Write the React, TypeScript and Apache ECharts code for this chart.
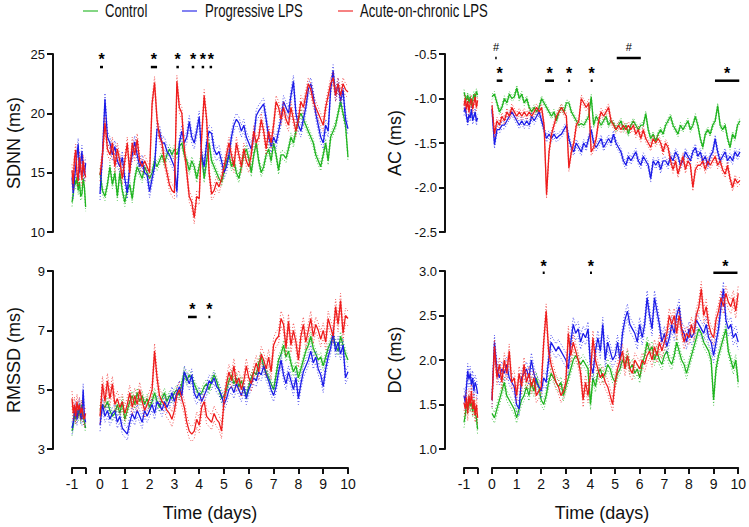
import React, { useEffect, useRef } from "react";
import * as echarts from "echarts";

// ---------- sampling grids ----------
const TIMES_PRE = [-1, -0.95, -0.9, -0.85, -0.8, -0.75, -0.7, -0.65, -0.6, -0.55, -0.5, -0.45];
const TIMES_POST = Array.from({ length: 101 }, (_, i) => i / 10);

const GROUPS = ["Control", "Progressive LPS", "Acute-on-chronic LPS"];
const COLORS = ["#1fb41f", "#1c1ce8", "#ee1c1c"];

const X_TICKS_POST = [0, 1, 2, 3, 4, 5, 6, 7, 8, 9, 10];

// ---------- SDNN ----------
const SDNN_PRE_CONTROL = [12.5, 13.2, 14.4, 14.0, 14.6, 13.5, 14.2, 13.0, 13.2, 14.5, 13.8, 12.1];
const SDNN_PRE_PROG = [14.6, 13.3, 14.5, 15.5, 16.5, 17.4, 15.0, 15.8, 16.8, 15.5, 14.8, 15.8];
const SDNN_PRE_ACUTE = [15.2, 14.0, 16.2, 16.9, 15.0, 14.3, 16.3, 15.5, 14.4, 16.0, 15.2, 14.6];
const SDNN_CONTROL = [
  15.0, 13.5, 13.0, 14.0, 15.5, 14.0, 15.0, 13.0, 15.0, 13.5,
  12.5, 13.5, 14.0, 12.8, 14.5, 15.5, 15.0, 14.5, 15.5, 15.0,
  14.5, 15.0, 16.0, 15.5, 16.0, 16.5, 15.8, 16.5, 17.0, 16.5,
  17.0, 16.5, 17.2, 17.5, 16.5, 16.0, 15.2, 16.0, 15.5, 14.5,
  15.5, 16.5, 14.5, 16.0, 17.5, 16.0, 15.5, 15.0, 14.5, 14.2,
  15.0, 16.0, 16.5, 15.5, 16.0, 15.0, 14.5, 15.5, 16.5, 17.0,
  16.2, 15.0, 16.5, 17.5, 16.0, 15.0, 15.5, 16.5, 17.0, 16.0,
  17.5, 16.5, 15.2, 16.5, 16.5, 16.2, 17.0, 18.0, 17.5, 18.5,
  19.5, 20.0, 19.5, 19.0, 18.5, 18.0, 17.5, 16.5, 16.0, 15.5,
  16.5, 17.5, 16.0, 18.0, 18.5, 19.0, 20.0, 21.0, 20.0, 19.0,
  16.3,
];
const SDNN_PROG = [
  13.2, 16.5, 21.2, 18.0, 17.5, 16.5, 17.2, 16.0, 15.5, 16.3,
  14.5, 13.3, 15.5, 16.5, 17.6, 16.5, 15.5, 16.0, 15.0, 14.8,
  13.4, 14.5, 15.5, 18.7, 18.5, 17.5, 17.5, 16.8, 16.5, 16.0,
  15.5, 13.4, 17.5, 18.5, 17.5, 18.0, 19.3, 18.0, 17.5, 18.5,
  19.7, 16.5, 15.5, 17.5, 18.5, 18.3, 17.0, 16.5, 16.8, 16.0,
  15.0, 15.5, 16.5, 18.0, 19.0, 19.5, 19.2, 18.5, 19.0, 18.0,
  17.5, 17.0, 18.0, 19.8, 20.2, 20.5, 20.8, 19.5, 18.0, 17.2,
  18.0, 17.5, 18.5, 19.5, 21.0, 20.5, 20.0, 21.5, 22.7, 20.0,
  19.0, 18.5, 19.5, 20.5, 22.0, 22.5, 21.5, 20.0, 19.0, 18.0,
  17.5, 19.0, 18.5, 22.0, 23.6, 21.5, 22.5, 21.0, 22.0, 19.5,
  18.7,
];
const SDNN_ACUTE = [
  14.8, 16.5, 19.2, 17.0, 16.5, 17.5, 15.5, 17.0, 16.0, 14.5,
  16.0, 17.5, 15.0, 17.5, 16.5, 17.8, 16.0, 15.5, 16.0, 15.5,
  15.0, 20.8, 22.6, 19.5, 18.0, 17.5, 16.0, 15.0, 14.0, 13.5,
  13.3, 22.7, 20.5, 20.0, 17.0, 15.0, 13.0, 12.5, 11.2, 13.0,
  12.8, 18.0, 21.5, 19.5, 15.0, 13.2, 13.5, 14.2, 13.8, 14.5,
  15.5, 16.5, 17.5, 16.5, 15.5, 17.5, 16.5, 15.5, 17.0, 16.0,
  15.5, 16.5, 18.5, 17.5, 18.0, 19.5, 18.5, 17.0, 18.5, 17.5,
  19.0, 21.0, 20.5, 19.5, 20.5, 19.5, 19.0, 20.5, 19.5, 18.5,
  19.5, 21.0, 20.5, 21.5, 22.5, 22.0, 21.0, 20.5, 20.0, 19.5,
  19.0, 20.5, 21.5, 22.5, 23.0, 21.5, 22.5, 21.5, 22.5, 22.0,
  21.8,
];
const SDNN_SEM = [0.35, 0.5, 0.5];
// [start day, end day, bar value, mark value, mark]
const SDNN_SIG: [number, number, number, number, string][] = [
  [0.0, 0.12, 23.9, 24.9, "*"],
  [2.05, 2.3, 23.9, 24.9, "*"],
  [3.08, 3.18, 23.9, 24.9, "*"],
  [3.7, 3.8, 23.9, 24.9, "*"],
  [4.1, 4.2, 23.9, 24.9, "*"],
  [4.42, 4.52, 23.9, 24.9, "*"],
];

// ---------- AC ----------
const AC_PRE_CONTROL = [-0.93, -0.98, -1.02, -0.96, -1.05, -0.98, -1.08, -1.02, -0.95, -1.0, -0.92, -0.96];
const AC_PRE_PROG = [-1.15, -1.1, -1.2, -1.27, -1.18, -1.22, -1.12, -1.25, -1.2, -1.15, -1.26, -1.22];
const AC_PRE_ACUTE = [-1.08, -1.0, -1.12, -1.03, -1.15, -1.05, -1.0, -1.12, -1.05, -0.98, -1.1, -1.02];
const AC_CONTROL = [
  -0.98, -0.95, -1.05, -1.15, -1.1, -1.0, -1.05, -0.95, -1.0, -0.98,
  -0.88, -1.0, -0.95, -1.05, -1.0, -1.1, -1.15, -1.1, -1.15, -1.1,
  -1.0, -1.05, -1.1, -1.15, -1.2, -1.15, -1.25, -1.15, -1.1, -1.15,
  -1.05, -1.05, -1.15, -1.2, -1.25, -1.3, -1.28, -1.3, -1.25, -1.2,
  -0.98, -1.3, -1.2, -1.25, -1.3, -1.25, -1.2, -1.3, -1.25, -1.28,
  -1.35, -1.3, -1.25, -1.35, -1.3, -1.4, -1.3, -1.25, -1.3, -1.35,
  -1.3, -1.3, -1.17, -1.35, -1.45, -1.4, -1.48, -1.4, -1.35, -1.4,
  -1.3, -1.25, -1.2, -1.3, -1.35, -1.4, -1.3, -1.35, -1.3, -1.25,
  -1.35, -1.3, -1.2, -1.3, -1.45, -1.55, -1.4, -1.35, -1.4, -1.3,
  -1.25, -1.08, -1.3, -1.35, -1.3, -1.45, -1.55, -1.4, -1.45, -1.3,
  -1.25,
];
const AC_PROG = [
  -1.12, -1.52, -1.35, -1.35, -1.3, -1.3, -1.25, -1.2, -1.15, -1.2,
  -1.25, -1.3, -1.25, -1.3, -1.25, -1.3, -1.2, -1.25, -1.2, -1.15,
  -1.25, -1.35, -1.45, -1.4, -1.45, -1.4, -1.45, -1.42, -1.4, -1.35,
  -1.3, -1.45, -1.55, -1.6, -1.5, -1.55, -1.6, -1.5, -1.55, -1.45,
  -1.35, -1.5, -1.55, -1.5, -1.45, -1.55, -1.5, -1.45, -1.5, -1.4,
  -1.5, -1.55, -1.6, -1.7, -1.75, -1.65, -1.7, -1.65, -1.6, -1.7,
  -1.75, -1.65, -1.7, -1.75, -1.9, -1.7, -1.75, -1.7, -1.8, -1.7,
  -1.7, -1.75, -1.65, -1.7, -1.6, -1.65, -1.75, -1.7, -1.6, -1.65,
  -1.7, -1.6, -1.55, -1.65, -1.6, -1.7, -1.65, -1.75, -1.65, -1.6,
  -1.45, -1.6, -1.7, -1.65, -1.6, -1.7, -1.65, -1.7, -1.6, -1.65,
  -1.6,
];
const AC_ACUTE = [
  -1.08, -1.4, -1.25, -1.3, -1.2, -1.25, -1.15, -1.2, -1.1, -1.15,
  -1.2, -1.15, -1.2, -1.15, -1.2, -1.15, -1.2, -1.15, -1.1, -1.15,
  -1.1, -1.3, -2.08, -1.6, -1.4, -1.3, -1.2, -1.15, -1.1, -1.15,
  -1.2, -1.78, -1.6, -1.5, -1.3, -1.25, -1.0, -1.05, -1.1, -1.05,
  -1.6, -1.55, -1.45, -1.25, -1.15, -1.2, -1.15, -1.1, -1.25, -1.3,
  -1.35, -1.3, -1.35, -1.3, -1.35, -1.3, -1.35, -1.3, -1.4, -1.35,
  -1.45, -1.35, -1.45, -1.5, -1.55, -1.45, -1.5, -1.45, -1.5, -1.6,
  -1.5, -1.55, -1.7, -1.8, -1.7, -1.85, -1.75, -1.65, -1.8, -1.7,
  -1.75, -2.0, -1.8, -1.75, -1.75, -1.7, -1.8, -1.7, -1.75, -1.7,
  -1.65, -1.75, -1.7, -1.8, -1.85, -1.75, -1.9, -2.0, -1.9, -1.95,
  -1.92,
];
const AC_SEM = [0.03, 0.04, 0.04];
const AC_SIG: [number, number, number, number, string][] = [
  [0.13, 0.19, -0.545, -0.42, "#"],
  [0.19, 0.42, -0.8, -0.67, "*"],
  [2.14, 2.5, -0.8, -0.67, "*"],
  [3.07, 3.15, -0.8, -0.67, "*"],
  [3.98, 4.06, -0.8, -0.67, "*"],
  [5.03, 6.0, -0.545, -0.42, "#"],
  [8.99, 9.97, -0.8, -0.67, "*"],
];

// ---------- RMSSD ----------
const RMSSD_PRE_CONTROL = [3.6, 3.8, 4.2, 4.0, 4.3, 4.1, 4.4, 4.0, 4.5, 4.1, 3.9, 3.7];
const RMSSD_PRE_PROG = [3.7, 3.9, 4.2, 4.4, 4.0, 4.3, 4.5, 4.1, 4.0, 5.0, 4.1, 3.9];
const RMSSD_PRE_ACUTE = [4.7, 4.2, 4.5, 4.1, 4.6, 4.3, 4.5, 4.2, 4.4, 4.1, 4.0, 4.2];
const RMSSD_CONTROL = [
  4.3, 4.5, 4.4, 4.6, 4.3, 4.1, 4.2, 4.5, 4.2, 4.6,
  4.0, 4.3, 4.6, 4.8, 4.5, 4.9, 4.6, 4.8, 4.5, 4.7,
  4.4, 4.6, 4.9, 4.6, 4.4, 4.7, 4.9, 4.6, 4.8, 4.7,
  4.9, 5.0, 4.8, 5.2, 5.6, 5.3, 5.5, 5.4, 5.2, 5.0,
  4.8, 4.9, 5.1, 5.2, 5.0, 5.3, 5.5, 5.3, 5.0, 4.7,
  4.8, 5.0, 5.3, 5.5, 5.2, 5.4, 5.1, 5.3, 5.0, 4.8,
  5.1, 5.4, 5.6, 5.5, 5.9, 6.1, 5.8, 5.6, 5.4, 5.2,
  5.0, 5.5, 6.0, 6.2, 6.5, 6.1, 6.3, 5.9, 5.6, 5.8,
  5.4, 5.7, 6.0, 6.3, 6.5, 6.8, 6.4, 6.2, 6.0, 6.1,
  5.8, 6.1, 6.4, 6.6, 6.8, 6.5, 6.3, 6.8, 6.5, 6.2,
  6.0,
];
const RMSSD_PROG = [
  3.8, 4.5, 4.1, 4.3, 4.0, 4.2, 4.3, 3.9, 4.1, 3.7,
  3.6, 3.5, 3.9, 4.2, 4.0, 4.3, 4.1, 3.9, 4.3, 4.1,
  4.3, 4.5, 4.2, 4.6, 4.5, 4.3, 4.6, 4.4, 4.6, 4.9,
  4.6, 4.9, 5.1, 4.8, 5.6, 5.4, 5.2, 5.5, 4.9, 4.7,
  4.9, 4.6, 4.8, 5.0, 5.3, 5.2, 5.4, 5.1, 5.0, 4.8,
  4.5, 4.7, 5.0, 5.1, 4.9, 5.2, 5.0, 4.8, 5.1, 4.7,
  5.0, 5.2, 5.4, 5.3, 5.6, 5.5, 5.8, 5.5, 5.3, 5.0,
  4.8, 5.1, 5.6, 6.0, 5.5, 5.2, 5.6, 5.3, 5.0, 5.4,
  4.7, 5.2, 5.6, 5.8, 6.0, 6.3, 5.9, 6.1, 5.7, 5.5,
  5.1, 5.7, 6.1, 6.4, 6.9, 6.3, 6.6, 6.2, 6.5, 5.4,
  5.6,
];
const RMSSD_ACUTE = [
  4.1, 5.2, 4.6, 5.3, 4.7, 5.2, 4.5, 4.7, 4.4, 4.6,
  4.2, 4.5, 4.9, 4.4, 4.8, 4.5, 5.0, 4.6, 4.3, 4.5,
  4.7, 5.0, 6.3, 5.4, 4.8, 4.6, 4.5, 4.3, 4.2, 4.0,
  4.3, 4.8, 5.0, 4.7, 4.4, 3.9, 3.6, 3.5, 3.6, 4.0,
  3.8, 4.4, 4.6, 4.1, 4.0, 3.9, 4.2, 4.0, 3.9, 3.6,
  4.6, 5.2, 5.6, 5.3, 5.8, 5.2, 5.4, 5.0, 5.3, 5.8,
  5.4, 5.2, 5.6, 5.9, 5.6, 6.2, 6.0, 5.7, 6.1, 5.6,
  6.5, 6.7, 6.8, 7.4, 7.2, 6.4, 7.3, 6.5, 7.0, 6.6,
  6.0, 6.8, 7.2, 6.6, 7.0, 7.4, 6.8, 7.2, 7.0, 6.7,
  7.0, 6.6, 7.4, 7.1, 6.8, 7.8, 7.2, 8.0, 6.9, 7.5,
  7.4,
];
const RMSSD_SEM = [0.15, 0.2, 0.25];
const RMSSD_SIG: [number, number, number, number, string][] = [
  [3.55, 3.9, 7.45, 7.85, "*"],
  [4.37, 4.45, 7.45, 7.85, "*"],
];

// ---------- DC ----------
const DC_PRE_CONTROL = [1.3, 1.38, 1.5, 1.45, 1.55, 1.48, 1.52, 1.42, 1.5, 1.4, 1.35, 1.22];
const DC_PRE_PROG = [1.6, 1.52, 1.7, 1.88, 1.78, 1.85, 1.72, 1.8, 1.65, 1.75, 1.7, 1.62];
const DC_PRE_ACUTE = [1.52, 1.45, 1.58, 1.4, 1.6, 1.5, 1.65, 1.45, 1.55, 1.38, 1.5, 1.35];
const DC_CONTROL = [
  1.4, 1.35, 1.45, 1.55, 1.65, 1.75, 1.6, 1.55, 1.5, 1.45,
  1.35, 1.45, 1.55, 1.6, 1.7, 1.6, 1.75, 1.65, 1.8, 1.7,
  1.55, 1.5, 1.6, 1.75, 1.85, 1.8, 1.75, 1.7, 1.75, 1.6,
  1.7, 1.8, 1.9, 2.0, 2.05, 2.0, 1.95, 2.0, 1.95, 1.9,
  1.5, 1.8, 1.7, 1.85, 1.9, 1.8, 1.85, 1.95, 1.9, 1.8,
  1.75, 1.85, 1.9, 2.0, 1.95, 2.05, 1.9, 1.95, 1.85, 1.9,
  1.8, 1.95, 2.05, 2.2, 2.1, 2.15, 2.0, 2.1, 2.0, 1.95,
  2.05, 2.1, 2.0, 1.95, 2.05, 2.2, 2.1, 2.0, 1.95, 1.85,
  1.95, 2.05, 2.15, 2.25, 2.35, 2.3, 2.2, 2.15, 2.1, 2.0,
  1.55, 1.9, 2.05, 2.15, 2.25, 2.35, 2.1, 2.0, 1.9, 2.0,
  1.75,
];
const DC_PROG = [
  1.55, 2.2, 1.9, 1.8, 1.9, 1.85, 1.95, 1.8, 1.75, 1.7,
  1.5, 1.45, 1.8, 1.85, 1.9, 1.8, 2.0, 1.85, 1.75, 1.7,
  1.65, 1.8, 1.75, 2.0, 2.2, 2.15, 2.1, 2.15, 2.1, 2.05,
  2.0, 1.9, 2.2, 2.4, 2.3, 2.35, 2.2, 2.3, 2.25, 2.35,
  1.95, 1.85, 2.1, 2.25, 2.1, 2.4, 2.0, 2.2, 2.1, 2.0,
  2.05, 2.2, 2.0, 2.3, 2.45, 2.55, 2.4, 2.35, 2.3, 2.2,
  2.4, 2.25, 2.4, 2.7, 2.5, 2.35, 2.7, 2.55, 2.4, 2.2,
  2.3, 2.15, 2.25, 2.4, 2.3, 2.5, 2.6, 2.35, 2.3, 2.2,
  2.35, 2.25, 2.3, 2.45, 2.4, 2.35, 2.3, 2.4, 2.25, 2.2,
  2.05, 2.2, 2.35, 2.6, 2.8, 2.45, 2.35, 2.4, 2.25, 2.3,
  2.2,
];
const DC_ACUTE = [
  1.55, 2.15, 1.8, 1.95, 1.75, 2.0, 1.85, 2.1, 1.75, 1.8,
  1.6, 1.85, 1.7, 1.95, 1.75, 1.85, 1.7, 1.8, 1.6, 1.65,
  1.7, 2.2, 2.55, 2.1, 1.95, 1.85, 1.75, 1.7, 1.6, 1.65,
  1.75, 2.3, 2.05, 2.2, 2.1, 2.0, 1.85, 1.55, 1.75, 1.6,
  1.85, 2.25, 2.0, 1.9, 1.8, 1.85, 1.75, 1.7, 1.6, 1.5,
  1.75, 1.9, 2.0, 2.1, 1.9, 2.05, 1.9, 1.85, 2.0, 1.95,
  1.9, 2.0, 1.95, 2.05, 2.1, 2.0, 2.15, 2.05, 2.2, 2.1,
  2.2, 2.3, 2.5, 2.4, 2.5, 2.3, 2.5, 2.35, 2.2, 2.3,
  2.25, 2.4, 2.3, 2.5, 2.6, 2.8, 2.5, 2.6, 2.4, 2.3,
  2.25, 2.45, 2.55, 2.7, 2.6, 2.75, 2.65, 2.6, 2.7, 2.55,
  2.75,
];
const DC_SEM = [0.06, 0.08, 0.08];
const DC_SIG: [number, number, number, number, string][] = [
  [2.06, 2.14, 2.98, 3.09, "*"],
  [3.98, 4.06, 2.98, 3.09, "*"],
  [8.99, 9.97, 2.98, 3.09, "*"],
];

// ---------- layout ----------
const FONT = '"Liberation Sans", Arial, Helvetica, sans-serif';
const DAY_PX = 24.8;

type Panel = {
  name: string;
  min: number;
  max: number;
  ticks: number[];
  decimals: number;
  pre: number[][];
  post: number[][];
  sem: number[];
  sig: [number, number, number, number, string][];
  preLeft: number;
  postLeft: number;
  top: number;
  nameGap: number;
  showX: boolean;
};

const PANELS: Panel[] = [
  {
    name: "SDNN (ms)", min: 10, max: 25, ticks: [10, 15, 20, 25], decimals: 0,
    pre: [SDNN_PRE_CONTROL, SDNN_PRE_PROG, SDNN_PRE_ACUTE],
    post: [SDNN_CONTROL, SDNN_PROG, SDNN_ACUTE], sem: SDNN_SEM, sig: SDNN_SIG,
    preLeft: 72, postLeft: 100, top: 54, nameGap: 30, showX: false,
  },
  {
    name: "AC (ms)", min: -2.5, max: -0.5, ticks: [-2.5, -2.0, -1.5, -1.0, -0.5], decimals: 1,
    pre: [AC_PRE_CONTROL, AC_PRE_PROG, AC_PRE_ACUTE],
    post: [AC_CONTROL, AC_PROG, AC_ACUTE], sem: AC_SEM, sig: AC_SIG,
    preLeft: 464, postLeft: 492, top: 54, nameGap: 41, showX: false,
  },
  {
    name: "RMSSD (ms)", min: 3, max: 9, ticks: [3, 5, 7, 9], decimals: 0,
    pre: [RMSSD_PRE_CONTROL, RMSSD_PRE_PROG, RMSSD_PRE_ACUTE],
    post: [RMSSD_CONTROL, RMSSD_PROG, RMSSD_ACUTE], sem: RMSSD_SEM, sig: RMSSD_SIG,
    preLeft: 72, postLeft: 100, top: 271, nameGap: 30, showX: true,
  },
  {
    name: "DC (ms)", min: 1.0, max: 3.0, ticks: [1.0, 1.5, 2.0, 2.5, 3.0], decimals: 1,
    pre: [DC_PRE_CONTROL, DC_PRE_PROG, DC_PRE_ACUTE],
    post: [DC_CONTROL, DC_PROG, DC_ACUTE], sem: DC_SEM, sig: DC_SIG,
    preLeft: 464, postLeft: 492, top: 271, nameGap: 41, showX: true,
  },
];

const PANEL_H = 178;
const PRE_MIN = -1;
const PRE_MAX = -0.45;
const AXIS_OFFSET = 19;

function buildOption() {
  const grid: any[] = [];
  const xAxis: any[] = [];
  const yAxis: any[] = [];
  const series: any[] = [];

  const axisLine = { show: true, lineStyle: { color: "#111", width: 2 } };
  const axisTick = { show: true, inside: false, length: 6, lineStyle: { color: "#111", width: 2 } };

  PANELS.forEach((p, pi) => {
    const preIdx = pi * 2;
    const postIdx = pi * 2 + 1;
    grid.push({ left: p.preLeft, top: p.top, width: (PRE_MAX - PRE_MIN) * DAY_PX, height: PANEL_H });
    grid.push({ left: p.postLeft, top: p.top, width: 10 * DAY_PX, height: PANEL_H });

    xAxis.push({
      type: "value", gridIndex: preIdx, min: PRE_MIN, max: PRE_MAX, show: p.showX,
      offset: AXIS_OFFSET, splitLine: { show: false }, axisLine,
      axisTick: { ...axisTick, customValues: [PRE_MIN, PRE_MAX] },
      axisLabel: { customValues: [PRE_MIN], fontSize: 14, color: "#111", margin: 9, fontFamily: FONT },
    });
    xAxis.push({
      type: "value", gridIndex: postIdx, min: 0, max: 10, interval: 1, show: p.showX,
      offset: AXIS_OFFSET, splitLine: { show: false }, axisLine,
      axisTick: { ...axisTick, customValues: X_TICKS_POST },
      axisLabel: { customValues: X_TICKS_POST, fontSize: 14, color: "#111", margin: 9, fontFamily: FONT },
    });

    yAxis.push({
      type: "value", gridIndex: preIdx, min: p.min, max: p.max, position: "left",
      offset: AXIS_OFFSET, splitLine: { show: false }, axisLine,
      axisTick: { ...axisTick, customValues: p.ticks },
      axisLabel: {
        customValues: p.ticks, fontSize: 13, color: "#111", margin: 8, fontFamily: FONT,
        formatter: (v: number) => v.toFixed(p.decimals),
      },
      name: p.name, nameLocation: "middle", nameGap: p.nameGap,
      nameTextStyle: { fontSize: 18, color: "#111", fontFamily: FONT },
    });
    yAxis.push({
      type: "value", gridIndex: postIdx, min: p.min, max: p.max, show: false,
      splitLine: { show: false },
    });

    GROUPS.forEach((g, gi) => {
      const segs = [
        { times: TIMES_PRE, vals: p.pre[gi], idx: preIdx },
        { times: TIMES_POST, vals: p.post[gi], idx: postIdx },
      ];
      segs.forEach((s) => {
        const sem = p.sem[gi];
        const common = {
          type: "line", xAxisIndex: s.idx, yAxisIndex: s.idx, symbol: "none",
          showSymbol: false, silent: true, z: 2 + gi,
        };
        series.push({
          ...common, name: g + " +SEM",
          data: s.times.map((t, i) => [t, s.vals[i] + sem]),
          lineStyle: { color: COLORS[gi], width: 1, type: [1, 2], opacity: 0.75 },
        });
        series.push({
          ...common, name: g + " -SEM",
          data: s.times.map((t, i) => [t, s.vals[i] - sem]),
          lineStyle: { color: COLORS[gi], width: 1, type: [1, 2], opacity: 0.75 },
        });
        series.push({
          ...common, name: g,
          data: s.times.map((t, i) => [t, s.vals[i]]),
          lineStyle: { color: COLORS[gi], width: 1.3 },
        });
      });
    });

    const sig = p.sig;
    series.push({
      type: "custom", xAxisIndex: postIdx, yAxisIndex: postIdx, silent: true, z: 10,
      clip: false,
      encode: { x: [0, 1], y: [2, 3] },
      data: sig.map((s) => [s[0], s[1], s[2], s[3]]),
      renderItem: (params: any, api: any) => {
        const s = sig[params.dataIndex];
        const p1 = api.coord([s[0], s[2]]);
        const p2 = api.coord([s[1], s[2]]);
        const pt = api.coord([(s[0] + s[1]) / 2, s[3]]);
        const star = s[4] === "*";
        return {
          type: "group",
          children: [
            {
              type: "line",
              shape: { x1: p1[0], y1: p1[1], x2: p2[0], y2: p2[1] },
              style: { stroke: "#000", lineWidth: 2.5 },
            },
            {
              type: "text",
              x: pt[0],
              y: pt[1] + (star ? 4 : 0),
              style: {
                text: s[4],
                fill: "#000",
                font: star ? `bold 16px ${FONT}` : `11px ${FONT}`,
                align: "center",
                verticalAlign: "middle",
              },
            },
          ],
        };
      },
    });
  });

  const legendItems = [
    { lx: 83, tx: 105 },
    { lx: 182, tx: 205 },
    { lx: 338, tx: 360 },
  ];
  const graphic: any[] = [];
  GROUPS.forEach((g, gi) => {
    const it = legendItems[gi];
    graphic.push({
      type: "line", shape: { x1: it.lx, y1: 11, x2: it.lx + 15, y2: 11 },
      style: { stroke: COLORS[gi], lineWidth: 2, opacity: 0.55 },
    });
    graphic.push({
      type: "text", x: it.tx, y: 11, scaleX: 0.73,
      style: { text: g, font: `18px ${FONT}`, fill: "#111", align: "left", verticalAlign: "middle" },
    });
  });
  graphic.push({
    type: "text", x: 210, y: 513,
    style: { text: "Time (days)", font: `18px ${FONT}`, fill: "#111", align: "center", verticalAlign: "middle" },
  });
  graphic.push({
    type: "text", x: 602, y: 513,
    style: { text: "Time (days)", font: `18px ${FONT}`, fill: "#111", align: "center", verticalAlign: "middle" },
  });

  return {
    animation: false,
    backgroundColor: "#ffffff",
    textStyle: { fontFamily: FONT },
    grid,
    xAxis,
    yAxis,
    series,
    graphic,
  };
}

export default function App() {
  const ref = useRef<HTMLDivElement>(null);
  useEffect(() => {
    if (!ref.current) return;
    const chart = echarts.init(ref.current, null, { renderer: "svg" });
    chart.setOption(buildOption() as any);
    return () => chart.dispose();
  }, []);
  return (
    <div
      ref={ref}
      style={{ position: "absolute", left: 0, top: 0, width: 749, height: 527 }}
    />
  );
}
